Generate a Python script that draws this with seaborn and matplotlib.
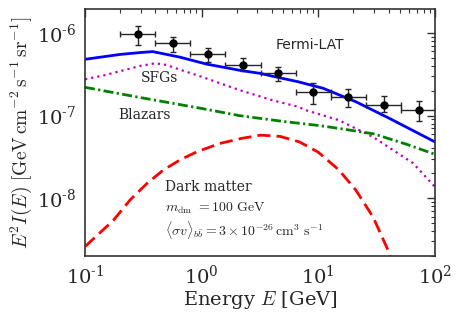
import numpy as np
import pandas as pd
import matplotlib
matplotlib.use('Agg')
import matplotlib.pyplot as plt
import seaborn as sns
from matplotlib.ticker import LogLocator, FixedLocator, FuncFormatter, NullFormatter

# Fermi-LAT data points (bin edges and flux)
bin_lo = [0.2, 0.4, 0.8, 1.6, 3.2, 6.4, 12.8, 25.6, 51.2]
bin_hi = [0.4, 0.8, 1.6, 3.2, 6.4, 12.8, 25.6, 51.2, 102.4]
e_data = [0.283, 0.566, 1.13, 2.26, 4.53, 9.05, 18.1, 36.2, 72.4]
flux_data = [9.7e-7, 7.5e-7, 5.5e-7, 4.1e-7, 3.3e-7, 1.91e-7, 1.67e-7, 1.33e-7, 1.17e-7]
flux_lo = [7.2e-7, 5.9e-7, 4.45e-7, 3.47e-7, 2.62e-7, 1.38e-7, 1.27e-7, 1.10e-7, 8.6e-8]
flux_hi = [1.22e-6, 8.9e-7, 6.6e-7, 4.97e-7, 3.9e-7, 2.48e-7, 2.09e-7, 1.72e-7, 1.50e-7]

# model curves
e_total = [0.1, 0.2, 0.3, 0.38, 0.5, 0.65, 1.1, 2.2, 3.15, 4.5, 6.7, 11, 21, 41, 100]
total = [4.8e-7, 5.5e-7, 5.8e-7, 5.95e-7, 5.5e-7, 5.1e-7, 4.2e-7, 3.5e-7, 3.25e-7,
         2.9e-7, 2.57e-7, 2.14e-7, 1.47e-7, 9.2e-8, 4.8e-8]

e_sfg = [0.1, 0.15, 0.2, 0.3, 0.4, 0.5, 0.65, 1.0, 2.1, 4.0, 6.7, 8.0, 15, 29.5, 44, 65, 100]
sfg = [2.75e-7, 3.1e-7, 3.45e-7, 4.0e-7, 4.3e-7, 4.1e-7, 3.6e-7, 2.95e-7, 2.04e-7,
       1.54e-7, 1.28e-7, 1.15e-7, 8.8e-8, 5.5e-8, 3.8e-8, 2.65e-8, 1.37e-8]

e_blazar = [0.1, 0.3, 1.0, 2.1, 5, 10, 15, 30, 57, 100]
blazar = [2.2e-7, 1.65e-7, 1.22e-7, 1.0e-7, 8.5e-8, 7.6e-8, 7.0e-8, 6.0e-8, 4.5e-8, 3.4e-8]

e_dm = [0.1, 0.175, 0.243, 0.338, 0.47, 0.65, 0.91, 1.43, 2.2, 3.2, 4.7, 6.9, 10, 15, 21, 29.5, 41, 45]
dm = [2.6e-9, 5.4e-9, 9.5e-9, 1.5e-8, 2.2e-8, 2.9e-8, 3.65e-8, 4.6e-8, 5.3e-8, 5.8e-8,
      5.6e-8, 4.8e-8, 3.6e-8, 2.2e-8, 1.25e-8, 5.9e-9, 2.1e-9, 1.2e-9]

xticks = [0.1, 1, 10, 100]
yticks = [1e-8, 1e-7, 1e-6]

sns.set_style('white')
plt.rcParams['font.family'] = ['DejaVu Serif']
plt.rcParams['mathtext.fontset'] = 'cm'

fig, ax = plt.subplots(figsize=(4.63, 3.18), dpi=100)
fig.subplots_adjust(left=0.1836, right=0.9395, bottom=0.195, top=0.9717)

sns.lineplot(x=e_total, y=total, ax=ax, color='b', lw=2, sort=False)
ax.lines[-1].set_linestyle('-')
sns.lineplot(x=e_sfg, y=sfg, ax=ax, color='m', lw=1.6, sort=False)
ax.lines[-1].set_linestyle((0, (1, 1.8)))
sns.lineplot(x=e_blazar, y=blazar, ax=ax, color='g', lw=2, sort=False)
ax.lines[-1].set_linestyle((0, (3.6, 1.2, 0.8, 1.2)))
sns.lineplot(x=e_dm, y=dm, ax=ax, color='r', lw=2, sort=False)
ax.lines[-1].set_linestyle((0, (4.7, 2.2)))

e_arr = np.array(e_data)
f_arr = np.array(flux_data)
xerr = [e_arr - np.array(bin_lo), np.array(bin_hi) - e_arr]
yerr = [f_arr - np.array(flux_lo), np.array(flux_hi) - f_arr]
ax.errorbar(e_arr, f_arr, xerr=xerr, yerr=yerr, fmt='o', color='k', ms=5,
            ecolor='0.15', elinewidth=1, capsize=2.5, capthick=1, zorder=5)

ax.set_xscale('log')
ax.set_yscale('log')
ax.set_xlim(0.1, 100)
ax.set_ylim(2e-9, 1.95e-6)


def fmt_pow(v, p):
    n = int(round(np.log10(v)))
    if n < 0:
        return r'$10^{\text{-}%d}$' % (-n)
    return r'$10^{%d}$' % n


fmt = FuncFormatter(fmt_pow)
ax.xaxis.set_major_locator(FixedLocator(xticks))
ax.yaxis.set_major_locator(FixedLocator(yticks))
ax.xaxis.set_minor_locator(LogLocator(base=10, subs=np.arange(2, 10), numticks=20))
ax.yaxis.set_minor_locator(LogLocator(base=10, subs=np.arange(2, 10), numticks=20))
ax.xaxis.set_major_formatter(fmt)
ax.yaxis.set_major_formatter(fmt)
ax.xaxis.set_minor_formatter(NullFormatter())
ax.yaxis.set_minor_formatter(NullFormatter())
ax.tick_params(which='both', direction='in', top=True, right=True, color='0.2')
ax.tick_params(which='major', length=6, width=1, labelsize=14, pad=6)
ax.tick_params(which='minor', length=3, width=0.8)
for lab in ax.get_xticklabels() + ax.get_yticklabels():
    lab.set_math_fontfamily('dejavuserif')

for s in ax.spines.values():
    s.set_color('0.2')
    s.set_linewidth(1.2)

ax.set_xlabel(r'Energy $E$ [GeV]', fontsize=14, labelpad=1)
ax.set_ylabel(r'$E^2 I(E)\ [\mathrm{GeV\,cm^{-2}\,s^{-1}\,sr^{-1}}]$', fontsize=14, labelpad=2)

ax.text(0.643, 0.854, 'Fermi-LAT', transform=ax.transAxes, ha='center', va='center',
        fontsize=10, family='DejaVu Sans')
ax.text(0.214, 0.721, 'SFGs', transform=ax.transAxes, ha='center', va='center', fontsize=10)
ax.text(0.171, 0.571, 'Blazars', transform=ax.transAxes, ha='center', va='center', fontsize=10)
ax.text(0.229, 0.281, 'Dark matter', transform=ax.transAxes, ha='left', va='center', fontsize=10)
ax.text(0.229, 0.194, r'$m_{\rm dm}\ = 100\ \mathrm{GeV}$', transform=ax.transAxes,
        ha='left', va='center', fontsize=10)
ax.text(0.229, 0.105, r'$\langle\sigma v\rangle_{b\bar b} = 3\times10^{-26}\,\mathrm{cm^3\ s^{-1}}$',
        transform=ax.transAxes, ha='left', va='center', fontsize=10)

fig.savefig('out.png', dpi=100)
